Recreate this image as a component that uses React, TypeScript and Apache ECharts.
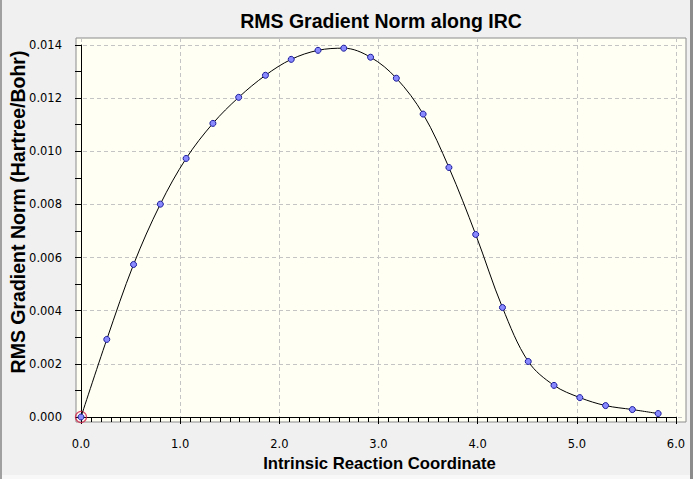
import React, { useEffect, useRef } from "react";
import * as echarts from "echarts";

const TITLE = "RMS Gradient Norm along IRC";
const X_NAME = "Intrinsic Reaction Coordinate";
const Y_NAME = "RMS Gradient Norm (Hartree/Bohr)";

const ircCoord = [
  0, 0.26, 0.53, 0.8, 1.06, 1.33, 1.59, 1.86, 2.12, 2.39, 2.65, 2.92, 3.18,
  3.45, 3.71, 3.98, 4.25, 4.51, 4.77, 5.03, 5.29, 5.56, 5.82,
];
const rmsGrad = [
  0.0, 0.00292, 0.00574, 0.00801, 0.00973, 0.01105, 0.01203, 0.01286, 0.01346,
  0.0138, 0.01388, 0.01354, 0.01275, 0.0114, 0.00939, 0.00687, 0.00412,
  0.00209, 0.00119, 0.00073, 0.00043, 0.00028, 0.00013,
];
const xRange = [0, 6];
const yRange = [0, 0.014];
const xStep = 1;
const yStep = 0.002;

export default function App() {
  const ref = useRef<HTMLDivElement>(null);
  useEffect(() => {
    if (!ref.current) return;
    const chart = echarts.init(ref.current, null, { renderer: "svg" });
    const data = ircCoord.map((x, i) => [x, rmsGrad[i]]);

    const bL = 76, bT = 38, bW = 610, bH = 384;
    const aL = 81, aT = 45, aW = 595, aH = 372;
    const pxX = aW / (xRange[1] - xRange[0]);
    const pxY = aH / (yRange[1] - yRange[0]);
    const boxXMin = xRange[0] - (aL - bL) / pxX;
    const boxXMax = xRange[1] + (bL + bW - (aL + aW)) / pxX;
    const boxYMax = yRange[1] + (aT - bT) / pxY;
    const boxYMin = yRange[0] - (bT + bH - (aT + aH)) / pxY;

    const labelFont = {
      fontFamily: "DejaVu Sans",
      fontSize: 11.5,
      color: "#000",
    };

    chart.setOption({
      animation: false,
      backgroundColor: "#F0F0F0",
      grid: [
        {
          left: bL,
          top: bT,
          width: bW,
          height: bH,
          show: true,
          backgroundColor: "#FFFFF4",
          borderColor: "#8c8c8c",
          borderWidth: 1,
        },
        { left: aL, top: aT, width: aW, height: aH, show: false },
      ],
      xAxis: [
        {
          type: "value",
          gridIndex: 0,
          min: boxXMin,
          max: boxXMax,
          splitNumber: 6,
          axisLine: { show: false },
          axisTick: { show: false },
          axisLabel: { show: false },
          splitLine: {
            show: true,
            showMinLine: false,
            showMaxLine: false,
            lineStyle: { color: "#c4c4c4", type: [4, 3], width: 1 },
          },
        },
        {
          type: "value",
          gridIndex: 1,
          min: xRange[0],
          max: xRange[1],
          interval: xStep,
          position: "bottom",
          offset: 9,
          axisLine: { show: true, lineStyle: { color: "#000", width: 1 } },
          axisTick: { show: true, length: 7, lineStyle: { color: "#000" } },
          minorTick: {
            show: true,
            splitNumber: 10,
            length: 5,
            lineStyle: { color: "#000" },
          },
          axisLabel: {
            ...labelFont,
            margin: 12,
            formatter: (v: number) => v.toFixed(1),
          },
          splitLine: { show: false },
        },
      ],
      yAxis: [
        {
          type: "value",
          gridIndex: 0,
          min: boxYMin,
          max: boxYMax,
          splitNumber: 7,
          axisLine: { show: false },
          axisTick: { show: false },
          axisLabel: { show: false },
          splitLine: {
            show: true,
            showMinLine: false,
            showMaxLine: false,
            lineStyle: { color: "#c4c4c4", type: [4, 3], width: 1 },
          },
        },
        {
          type: "value",
          gridIndex: 1,
          min: yRange[0],
          max: yRange[1],
          interval: yStep,
          position: "left",
          offset: 9,
          axisLine: { show: true, lineStyle: { color: "#000", width: 1 } },
          axisTick: { show: true, length: 6, lineStyle: { color: "#000" } },
          minorTick: {
            show: true,
            splitNumber: 2,
            length: 6,
            lineStyle: { color: "#000" },
          },
          axisLabel: {
            ...labelFont,
            margin: 10,
            formatter: (v: number) => v.toFixed(3),
          },
          splitLine: { show: false },
        },
      ],
      series: [
        {
          type: "scatter",
          xAxisIndex: 1,
          yAxisIndex: 1,
          data: [data[0]],
          symbol: "circle",
          symbolSize: 11,
          itemStyle: {
            color: "rgba(0,0,0,0)",
            borderColor: "#d0204a",
            borderWidth: 1.3,
          },
          z: 3,
        },
        {
          type: "line",
          xAxisIndex: 1,
          yAxisIndex: 1,
          data,
          smooth: 0.35,
          symbol: "circle",
          symbolSize: 6,
          showAllSymbol: true,
          lineStyle: { color: "#000", width: 1 },
          itemStyle: { color: "#8a8aff", borderColor: "#1a1a9a", borderWidth: 1 },
          z: 4,
        },
      ],
      graphic: [
        {
          type: "rect",
          shape: { x: 0, y: 0, width: 2, height: 479 },
          style: { fill: "#a0a0a0" },
          silent: true,
        },
        {
          type: "rect",
          shape: { x: 690, y: 0, width: 3, height: 479 },
          style: { fill: "#8c8c8c" },
          silent: true,
        },
        {
          type: "rect",
          shape: { x: 2, y: 475, width: 688, height: 4 },
          style: { fill: "#f8f8f8" },
          silent: true,
        },
        {
          type: "text",
          x: 381,
          y: 20.5,
          style: {
            text: TITLE,
            fontFamily: "Liberation Sans",
            fontWeight: "bold",
            fontSize: 19.5,
            fill: "#000",
            align: "center",
            verticalAlign: "middle",
          },
        },
        {
          type: "text",
          x: 379.5,
          y: 463,
          style: {
            text: X_NAME,
            fontFamily: "Liberation Sans",
            fontWeight: "bold",
            fontSize: 16.7,
            fill: "#000",
            align: "center",
            verticalAlign: "middle",
          },
        },
        {
          type: "text",
          x: 17.5,
          y: 212,
          rotation: Math.PI / 2,
          style: {
            text: Y_NAME,
            fontFamily: "Liberation Sans",
            fontWeight: "bold",
            fontSize: 19.5,
            fill: "#000",
            align: "center",
            verticalAlign: "middle",
          },
        },
      ],
    });
    return () => chart.dispose();
  }, []);
  return (
    <div
      ref={ref}
      style={{ position: "fixed", left: 0, top: 0, width: 693, height: 479 }}
    />
  );
}
